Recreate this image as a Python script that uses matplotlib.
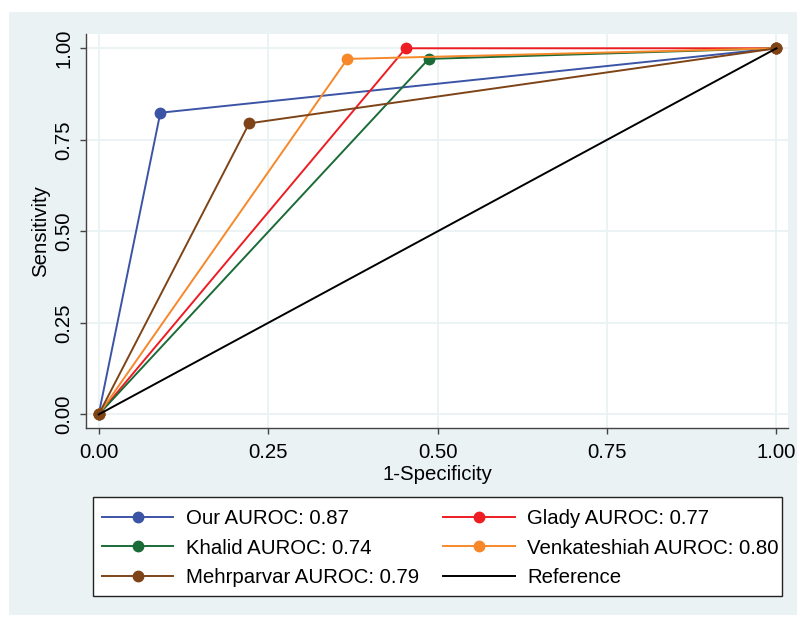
import matplotlib
matplotlib.use("Agg")
import matplotlib.pyplot as plt
from matplotlib.patches import Rectangle

plt.rcParams['font.family'] = ['Liberation Sans', 'DejaVu Sans']

# ROC points (1-Specificity, Sensitivity)
labels = ["Our AUROC: 0.87", "Glady AUROC: 0.77", "Khalid AUROC: 0.74",
          "Venkateshiah AUROC: 0.80", "Mehrparvar AUROC: 0.79"]
fpr = [[0, 0.091, 1], [0, 0.453, 1], [0, 0.487, 1], [0, 0.367, 1], [0, 0.222, 1]]
tpr = [[0, 0.824, 1], [0, 1.0, 1], [0, 0.971, 1], [0, 0.971, 1], [0, 0.795, 1]]
colors = ["#3B54A5", "#EE1D23", "#1B6B37", "#F7882A", "#7E4418"]
ref_x = [0, 1]
ref_y = [0, 1]
ticks = [0, 0.25, 0.5, 0.75, 1.0]
tick_labels = ["0.00", "0.25", "0.50", "0.75", "1.00"]

W, H = 802, 617
FS = 14.7
fig = plt.figure(figsize=(W / 100, H / 100), dpi=100, facecolor="white")
bg = Rectangle((9 / W, (H - 615) / H), 788 / W, 603 / H, transform=fig.transFigure,
               facecolor="#EAF2F3", edgecolor="none", zorder=-10)
fig.patches.append(bg)

ax = fig.add_axes([86 / W, (H - 428) / H, (788 - 86) / W, (428 - 34) / H])
ax.set_facecolor("white")

handles = []
for x, y, c, lab in zip(fpr, tpr, colors, labels):
    h, = ax.plot(x, y, color=c, lw=1.4, marker="o", ms=7.5, label=lab)
    handles.append(h)
href, = ax.plot(ref_x, ref_y, color="black", lw=1.4, label="Reference")

ax.set_xlim(-0.0187, 1.017)
ax.set_ylim(-0.037, 1.039)
ax.set_xticks(ticks)
ax.set_xticklabels(tick_labels)
ax.set_yticks(ticks)
ax.set_yticklabels(tick_labels, rotation=90, va="center")
ax.grid(True, color="#EAF2F3", lw=1.3)
ax.set_axisbelow(True)
for s in ["top", "right"]:
    ax.spines[s].set_visible(False)
for s in ["left", "bottom"]:
    ax.spines[s].set_color("#444444")
    ax.spines[s].set_linewidth(1.0)
ax.tick_params(axis="both", length=4, width=1.0, color="#444444", labelsize=FS)
ax.tick_params(axis="x", pad=7)
ax.tick_params(axis="y", pad=5)

fig.text(437 / W, 1 - 474 / H, "1-Specificity", ha="center", va="center", fontsize=FS)
fig.text(41 / W, 1 - 231 / H, "Sensitivity", ha="center", va="center", rotation=90, fontsize=FS)

# legend frame drawn by hand, entries placed inside it
frame = Rectangle((93 / W, (H - 596) / H), (782 - 93) / W, (596 - 497) / H,
                  transform=fig.transFigure, facecolor="white", edgecolor="#222222",
                  lw=1.0, zorder=1)
fig.patches.append(frame)
order = [handles[0], handles[2], handles[4], handles[1], handles[3], href]
leg = fig.legend(order, [h.get_label() for h in order], ncol=2,
                 loc="upper left", bbox_to_anchor=(102 / W, 1 - 509 / H),
                 fontsize=FS, frameon=False, borderpad=0, borderaxespad=0,
                 handlelength=3.5, handletextpad=0.6, columnspacing=1.2,
                 labelspacing=0.52)

fig.savefig("out.png", dpi=100, facecolor="white")
